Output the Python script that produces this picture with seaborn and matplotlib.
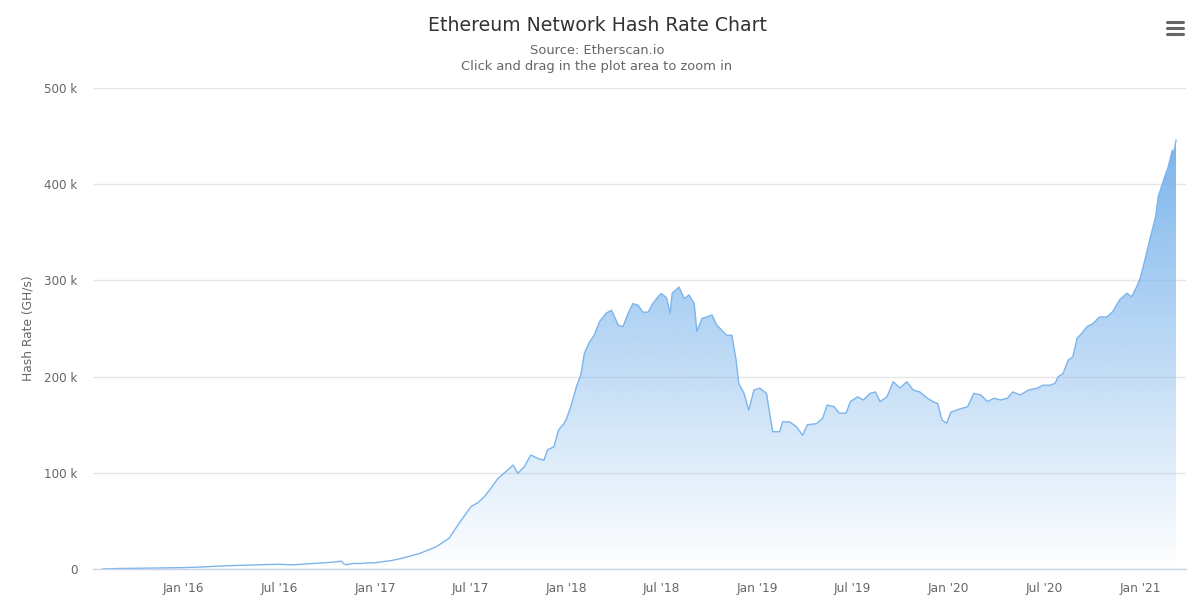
import matplotlib
matplotlib.use("Agg")
import numpy as np
import pandas as pd
import matplotlib.pyplot as plt
import matplotlib.dates as mdates
from matplotlib.lines import Line2D
import seaborn as sns

# Hash rate (thousands of GH/s)
dates = [
    "2015-07-30", "2015-09-01", "2015-10-15", "2015-12-01", "2016-01-01", "2016-02-01",
    "2016-03-01", "2016-04-01", "2016-05-01", "2016-06-01", "2016-07-01", "2016-07-25",
    "2016-08-15", "2016-09-01", "2016-09-20", "2016-10-10", "2016-10-20", "2016-10-28",
    "2016-11-02", "2016-11-06", "2016-11-20", "2016-12-01", "2016-12-15", "2017-01-01",
    "2017-01-15", "2017-02-01", "2017-02-20", "2017-03-26", "2017-04-27", "2017-05-22",
    "2017-06-10", "2017-07-03", "2017-07-16", "2017-07-28", "2017-08-10", "2017-08-23",
    "2017-09-11", "2017-09-21", "2017-09-30", "2017-10-12", "2017-10-25", "2017-11-07",
    "2017-11-19", "2017-11-26", "2017-12-08", "2017-12-17", "2017-12-27", "2018-01-01",
    "2018-01-10", "2018-01-20", "2018-01-29", "2018-02-04", "2018-02-14", "2018-02-23",
    "2018-03-05", "2018-03-18", "2018-03-28", "2018-04-10", "2018-04-19", "2018-04-29",
    "2018-05-08", "2018-05-18", "2018-05-27", "2018-06-06", "2018-06-15", "2018-06-25",
    "2018-07-01", "2018-07-11", "2018-07-18", "2018-07-22", "2018-08-04", "2018-08-14",
    "2018-08-23", "2018-09-02", "2018-09-07", "2018-09-17", "2018-09-26", "2018-10-06",
    "2018-10-15", "2018-10-25", "2018-11-03", "2018-11-13", "2018-11-21", "2018-11-26",
    "2018-12-06", "2018-12-15", "2018-12-25", "2019-01-05", "2019-01-18", "2019-01-24",
    "2019-01-30", "2019-02-12", "2019-02-18", "2019-03-03", "2019-03-16", "2019-03-28",
    "2019-04-06", "2019-04-23", "2019-05-05", "2019-05-14", "2019-05-27", "2019-06-06",
    "2019-06-19", "2019-06-27", "2019-07-11", "2019-07-22", "2019-08-04", "2019-08-14",
    "2019-08-23", "2019-09-05", "2019-09-17", "2019-09-30", "2019-10-13", "2019-10-25",
    "2019-11-07", "2019-11-21", "2019-12-02", "2019-12-11", "2019-12-19", "2019-12-28",
    "2020-01-05", "2020-01-20", "2020-02-06", "2020-02-18", "2020-03-02", "2020-03-15",
    "2020-03-27", "2020-04-09", "2020-04-22", "2020-05-02", "2020-05-17", "2020-06-01",
    "2020-06-18", "2020-06-29", "2020-07-12", "2020-07-22", "2020-07-28", "2020-08-06",
    "2020-08-16", "2020-08-25", "2020-09-02", "2020-09-11", "2020-09-21", "2020-10-02",
    "2020-10-15", "2020-10-29", "2020-11-09", "2020-11-22", "2020-12-06", "2020-12-15",
    "2020-12-25", "2021-01-01", "2021-01-11", "2021-01-20", "2021-01-30", "2021-02-04",
    "2021-02-14", "2021-02-23", "2021-03-03", "2021-03-05", "2021-03-10",
]
hash_rate_k = [
    0.05, 0.5, 0.8, 1.1, 1.4, 2.0,
    2.8, 3.5, 4.0, 4.5, 4.9, 4.3,
    5.0, 5.6, 6.2, 7.0, 7.6, 8.2,
    5.5, 4.4, 5.8, 5.6, 6.3, 6.5,
    7.5, 8.8, 11.0, 16.0, 23.0, 32.0,
    47.5, 65.0, 69.0, 75.0, 84.0, 94.0,
    103.0, 108.0, 99.5, 106.0, 118.5, 115.0,
    113.0, 124.0, 127.0, 144.5, 151.0, 156.0,
    170.0, 189.5, 203.0, 224.0, 236.0, 243.0,
    257.0, 266.0, 269.0, 253.5, 252.0, 266.0,
    276.0, 274.0, 267.0, 267.0, 276.0, 283.0,
    286.5, 282.0, 266.0, 287.0, 293.0, 281.0,
    285.0, 276.0, 247.0, 260.6, 262.0, 264.0,
    253.6, 248.0, 243.0, 243.0, 217.0, 193.0,
    182.6, 165.0, 186.0, 188.0, 182.6, 162.0,
    142.7, 142.7, 153.0, 153.0, 148.0, 139.0,
    150.0, 151.0, 156.6, 170.5, 168.7, 162.0,
    162.0, 174.0, 179.0, 175.7, 182.6, 184.0,
    174.0, 179.0, 194.7, 188.0, 194.7, 186.0,
    184.0, 177.5, 174.0, 172.0, 155.0, 151.5,
    163.0, 166.0, 168.7, 182.6, 181.0, 174.0,
    177.5, 175.7, 177.5, 184.0, 181.0, 186.0,
    188.0, 191.0, 191.0, 193.0, 200.0, 203.0,
    217.0, 220.7, 240.0, 245.0, 252.0, 255.0,
    262.0, 262.0, 267.5, 279.6, 286.6, 283.0,
    293.5, 303.0, 324.6, 345.0, 366.0, 387.0,
    404.0, 418.0, 435.5, 430.0, 446.0,
]
tick_dates = ["2016-01-01", "2016-07-01", "2017-01-01", "2017-07-01", "2018-01-01",
              "2018-07-01", "2019-01-01", "2019-07-01", "2020-01-01", "2020-07-01",
              "2021-01-01"]
tick_labels = ["Jan '16", "Jul '16", "Jan '17", "Jul '17", "Jan '18", "Jul '18",
               "Jan '19", "Jul '19", "Jan '20", "Jul '20", "Jan '21"]
y_ticks = [0, 100000, 200000, 300000, 400000, 500000]
y_tick_labels = ["0", "100 k", "200 k", "300 k", "400 k", "500 k"]

df = pd.DataFrame({"date": pd.to_datetime(dates),
                   "hash_rate": np.array(hash_rate_k) * 1000})

sns.set_style("white")
plt.rcParams["font.family"] = ["DejaVu Sans"]

fig = plt.figure(figsize=(11.94, 6.13), dpi=100)
ax = fig.add_axes([0.0779, 0.0718, 0.9154, 0.7846])

line_color = "#7cb5ec"
sns.lineplot(data=df, x="date", y="hash_rate", color=line_color, linewidth=1,
             ax=ax, zorder=3)

# gradient fill under the line, clipped to the area
poly = ax.fill_between(df["date"], df["hash_rate"], 0, color="none", lw=0)
x0 = mdates.date2num(df["date"].iloc[0])
x1 = mdates.date2num(df["date"].iloc[-1])
ymax = df["hash_rate"].max()
rgba = np.zeros((256, 1, 4))
rgba[..., :3] = matplotlib.colors.to_rgb(line_color)
rgba[..., 3] = np.linspace(1, 0, 256)[:, None]
im = ax.imshow(rgba, extent=[x0, x1, 0, ymax], aspect="auto", origin="upper",
               zorder=2, interpolation="bilinear")
im.set_clip_path(poly.get_paths()[0], transform=ax.transData)

ax.set_xlim(pd.Timestamp("2015-07-12"), pd.Timestamp("2021-03-29"))
ax.set_ylim(0, 500000)

ax.set_yticks(y_ticks)
ax.set_yticklabels(y_tick_labels)
ax.set_xticks(pd.to_datetime(tick_dates))
ax.set_xticklabels(tick_labels)

ax.yaxis.grid(True, color="#e6e6e6", linewidth=1)
ax.xaxis.grid(False)
ax.set_axisbelow(True)

for side in ["top", "right", "left"]:
    ax.spines[side].set_visible(False)
ax.spines["bottom"].set_color("#ccd6eb")
ax.spines["bottom"].set_linewidth(1)
ax.spines["bottom"].set_zorder(4)

ax.tick_params(axis="x", direction="out", length=7.2, width=1, color="#ccd6eb",
               labelsize=8.8, labelcolor="#666666", pad=2)
ax.tick_params(axis="y", length=0, labelsize=8.6, labelcolor="#666666", pad=11)

ax.set_xlabel("")
ax.set_ylabel("Hash Rate (GH/s)", fontsize=8.8, color="#666666", labelpad=7)

fig.text(0.5, 0.959, "Ethereum Network Hash Rate Chart", ha="center", va="center",
         fontsize=13.6, color="#333333")
fig.text(0.5, 0.918, "Source: Etherscan.io", ha="center", va="center",
         fontsize=9.4, color="#666666")
fig.text(0.5, 0.892, "Click and drag in the plot area to zoom in", ha="center",
         va="center", fontsize=9.4, color="#666666")

# menu icon
for yy in [22, 28, 34]:
    fig.add_artist(Line2D([1167 / 1194, 1183 / 1194], [1 - yy / 613, 1 - yy / 613],
                          transform=fig.transFigure, color="#666666",
                          linewidth=2.2, solid_capstyle="round"))

fig.savefig("out.png", dpi=100)
